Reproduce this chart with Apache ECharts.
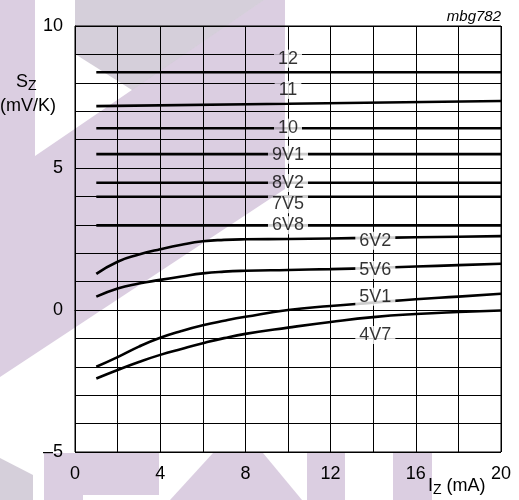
<!DOCTYPE html>
<html>
<head>
<meta charset="utf-8">
<script src="https://cdn.jsdelivr.net/npm/echarts@6/dist/echarts.min.js"></script>
<style>html,body{margin:0;padding:0;background:#fff;}#c{width:519px;height:500px;}</style>
</head>
<body>
<div id="c"></div>
<script>
// ---- data ----
const xFlat = [1, 10, 20];
const s12  = [8.37, 8.37, 8.37];
const s11  = [7.18, 7.26, 7.36];
const s10  = [6.40, 6.40, 6.40];
const s9V1 = [5.49, 5.49, 5.49];
const s8V2 = [4.48, 4.48, 4.48];
const s7V5 = [3.99, 3.99, 3.99];
const s6V8 = [2.98, 2.98, 2.98];

const xCurve = [1, 2, 3, 4, 5, 6, 7, 8, 10, 12, 14, 16, 18, 20];
const s6V2 = [1.27, 1.70, 1.95, 2.14, 2.30, 2.42, 2.47, 2.49, 2.50, 2.52, 2.54, 2.56, 2.58, 2.60];
const s5V6 = [0.47, 0.76, 0.93, 1.06, 1.18, 1.29, 1.35, 1.38, 1.41, 1.44, 1.48, 1.53, 1.58, 1.63];
const s5V1 = [-2.00, -1.66, -1.29, -0.98, -0.74, -0.54, -0.38, -0.24, 0.00, 0.14, 0.26, 0.38, 0.47, 0.57];
const s4V7 = [-2.41, -2.11, -1.83, -1.58, -1.37, -1.17, -0.99, -0.84, -0.62, -0.42, -0.25, -0.14, -0.07, -0.02];

const labelNames = ['12', '11', '10', '9V1', '8V2', '7V5', '6V8', '6V2', '5V6', '5V1', '4V7'];
const labelX = [10, 10, 10, 10, 10, 10, 10, 14.1, 14.1, 14.1, 14.1];
const labelY = [8.85, 7.75, 6.42, 5.47, 4.47, 3.72, 2.98, 2.44, 1.41, 0.47, -0.88];

const xTickLabels = [0, 4, 8, 12, 16, 20];
const yTickLabels = [-5, 0, 5, 10];

// ---- chart ----
const FONT = '"Liberation Sans", Arial, Helvetica, sans-serif';
const chart = echarts.init(document.getElementById('c'), null, {renderer: 'canvas'});

function pairs(xs, ys) { return xs.map((x, i) => [x, ys[i]]); }

const flatSets = [s12, s11, s10, s9V1, s8V2, s7V5, s6V8];
const curveSets = [s6V2, s5V6, s5V1, s4V7];

const lineStyle = {color: '#000', width: 2.6};
const series = [];
flatSets.forEach(d => series.push({
  type: 'line', data: pairs(xFlat, d), showSymbol: false, symbol: 'none',
  lineStyle: lineStyle, z: 2, silent: true, animation: false
}));
curveSets.forEach(d => series.push({
  type: 'line', data: pairs(xCurve, d), showSymbol: false, symbol: 'none', smooth: 0.5,
  lineStyle: lineStyle, z: 2, silent: true, animation: false
}));
series.push({
  type: 'scatter', symbolSize: 0, z: 5, silent: true, animation: false,
  data: labelNames.map((n, i) => ({name: n, value: [labelX[i], labelY[i]]})),
  label: {
    show: true, position: 'inside', formatter: p => p.name,
    color: '#000', fontSize: 18, fontFamily: FONT, lineHeight: 18,
    backgroundColor: '#fff', padding: [0, 4]
  }
});

const lav = '#dbcee1';
const gry = '#d5cfda';
function poly(points, fill) {
  return {type: 'polygon', shape: {points: points}, style: {fill: fill, blend: 'multiply'}, z: 100, silent: true};
}

chart.setOption({
  backgroundColor: '#fff',
  animation: false,
  grid: {left: 75, top: 26, width: 426, height: 426, show: true, borderColor: '#000', borderWidth: 1},
  xAxis: {
    type: 'value', min: 0, max: 20, interval: 2,
    axisLine: {show: true, lineStyle: {color: '#000', width: 1}},
    axisTick: {show: false},
    splitLine: {show: true, lineStyle: {color: '#000', width: 1}},
    axisLabel: {
      color: '#000', fontSize: 18, fontFamily: FONT, margin: 13,
      formatter: v => xTickLabels.indexOf(v) >= 0 ? String(v) : ''
    }
  },
  yAxis: {
    type: 'value', min: -5, max: 10, interval: 1,
    axisLine: {show: true, lineStyle: {color: '#000', width: 1}},
    axisTick: {show: false},
    splitLine: {show: true, lineStyle: {color: '#000', width: 1}},
    axisLabel: {
      color: '#000', fontSize: 18, fontFamily: FONT, margin: 12, padding: [9, 0, 0, 0],
      formatter: v => yTickLabels.indexOf(v) >= 0 ? String(v).replace('-', '\u2013') : ''
    }
  },
  graphic: [
    // watermark shapes (multiplied over the drawing)
    poly([[0,0],[35,0],[35,156],[264,0],[285,0],[285,189],[0,377]], lav),
    poly([[75,0],[264,0],[132,90],[75,54]], gry),
    poly([[0,458],[33,475],[33,500],[0,500]], gry),
    poly([[44,453],[159,453],[159,495],[83,495],[83,500],[44,500]], lav),
    poly([[213,453],[263,453],[302,500],[170,500]], lav),
    poly([[307,453],[345,453],[345,500],[307,500]], lav),
    poly([[393,453],[432,453],[432,500],[393,500]], lav),
    // texts
    {type: 'text', left: 16, top: 73, z: 50, silent: true,
     style: {text: '{a|S}{b|Z}', rich: {a: {fontSize: 18, fontFamily: FONT, fill: '#000'}, b: {fontSize: 14, fontFamily: FONT, fill: '#000', padding: [9, 0, 0, 0]}}}},
    {type: 'text', left: 0, top: 97, z: 50, silent: true,
     style: {text: '(mV/K)', fontSize: 18, fontFamily: FONT, fill: '#000'}},
    {type: 'text', left: 428, top: 477, z: 50, silent: true,
     style: {text: '{a|I}{b|Z}{a| (mA)}', rich: {a: {fontSize: 18, fontFamily: FONT, fill: '#000'}, b: {fontSize: 14, fontFamily: FONT, fill: '#000', padding: [9, 0, 0, 0]}}}},
    {type: 'text', right: 18, top: 9, z: 50, silent: true,
     style: {text: 'mbg782', fontSize: 15, fontStyle: 'italic', fontFamily: FONT, fill: '#000'}}
  ],
  series: series
});
</script>
</body>
</html>
